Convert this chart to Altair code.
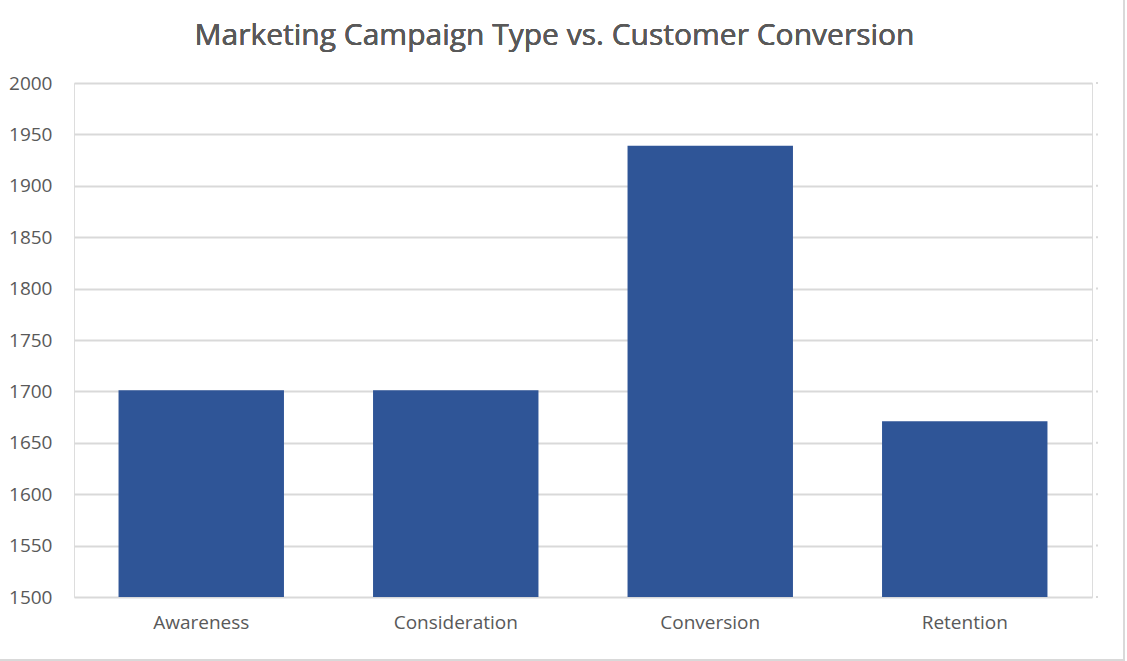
import altair as alt
import pandas as pd

campaigns = ["Awareness", "Consideration", "Conversion", "Retention"]
conversions = [1701, 1701, 1939, 1671]
y_ticks = [1500, 1550, 1600, 1650, 1700, 1750, 1800, 1850, 1900, 1950, 2000]
title_text = "Marketing Campaign Type vs. Customer Conversion"

df = pd.DataFrame({"Campaign": campaigns, "Conversions": conversions})
ticks_df = pd.DataFrame({"t": y_ticks})

FONT = "Open Sans"
TXT = "#595959"
GRID = "#D9D9D9"

yscale = alt.Scale(domain=[1500, 2000], nice=False, zero=False)

bars = alt.Chart(df).mark_bar(color="#2F5597", clip=True).encode(
    x=alt.X("Campaign:N", sort=campaigns, title=None,
            scale=alt.Scale(paddingInner=0.35, paddingOuter=0.175),
            axis=alt.Axis(labelAngle=0, labelFontSize=19, labelColor=TXT, labelFont=FONT,
                          labelPadding=16, ticks=False, domain=False, grid=False)),
    y=alt.Y("Conversions:Q", title=None, scale=yscale,
            axis=alt.Axis(orient="left", values=y_ticks, format="d", labelFontSize=19,
                          labelColor=TXT, labelFont=FONT, labelPadding=22, ticks=False,
                          domain=False, grid=True, gridColor=GRID, gridWidth=2)),
)

right_dots = alt.Chart(ticks_df).mark_square(size=4, color=GRID, opacity=1, clip=False).encode(
    y=alt.Y("t:Q", scale=yscale), x=alt.value(1023))

border_r = alt.Chart(df).mark_rule(color=GRID, strokeWidth=2, clip=False).encode(
    x=alt.value(1050), y=alt.value(-83), y2=alt.value(577))
border_b = alt.Chart(df).mark_rule(color=GRID, strokeWidth=2, clip=False).encode(
    x=alt.value(-74), x2=alt.value(1051), y=alt.value(577))

title = alt.Chart(df).mark_text(text=title_text, font=FONT, fontSize=30, color=TXT,
                                align="center", baseline="alphabetic", clip=False).encode(
    x=alt.value(480.5), y=alt.value(-38.5))

chart = alt.layer(bars, right_dots, border_r, border_b, title).properties(
    width=1018, height=514,
    autosize=alt.AutoSizeParams(type="none"),
    padding={"left": 74, "top": 83, "right": 35, "bottom": 64},
).configure_view(strokeWidth=0, stroke="transparent").configure(background="white")

chart.save("out.html", embed_options={"renderer": "svg", "actions": False})
